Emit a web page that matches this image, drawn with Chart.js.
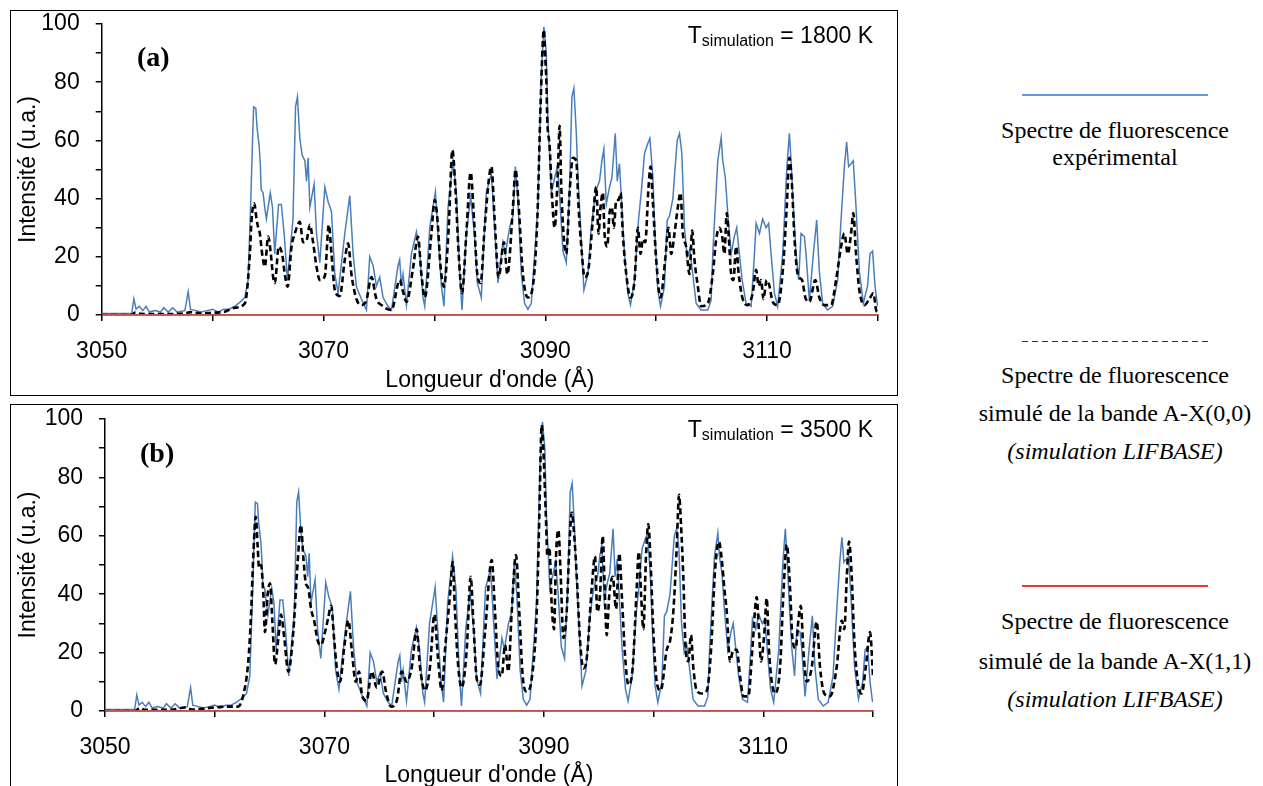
<!DOCTYPE html>
<html><head><meta charset="utf-8">
<script src="https://cdn.jsdelivr.net/npm/chart.js@4.4.1/dist/chart.umd.min.js"></script>
<style>
html,body{margin:0;padding:0;background:#fff}
body{position:relative;width:1263px;height:786px;overflow:hidden}
.box{position:absolute;border:1.5px solid #000;box-sizing:border-box;pointer-events:none}
.cv{position:absolute}
.tag{position:absolute;font:bold 28px "Liberation Serif","Times New Roman",serif;line-height:1}
.tsim{position:absolute;font:23px "Liberation Sans",Arial,sans-serif;line-height:1;white-space:nowrap;right:390px}
.tsim span{font-size:16px;position:relative;top:3px}
.leg{position:absolute;left:965px;width:300px;text-align:center;font:24px "Liberation Serif","Times New Roman",serif;line-height:1;white-space:nowrap}
.ln{position:absolute;left:1022px;width:186px;height:1.5px}
</style></head>
<body>
<canvas id="chartA" class="cv" width="887" height="385" style="left:10px;top:10px"></canvas>
<canvas id="chartB" class="cv" width="887" height="385" style="left:10px;top:405px"></canvas>
<div class="box" style="left:10px;top:10px;width:888px;height:386px"></div>
<div class="box" style="left:10px;top:404px;width:888px;height:400px"></div>

<div class="tag" style="left:137px;top:43px">(a)</div>
<div class="tag" style="left:140px;top:439px">(b)</div>
<div class="tsim" style="top:24px">T<span>simulation</span> = 1800 K</div>
<div class="tsim" style="top:418px">T<span>simulation</span> = 3500 K</div>

<div class="ln" style="top:94px;background:#5e9ee0"></div>
<div class="leg" style="top:118px">Spectre de fluorescence</div>
<div class="leg" style="top:145px">expérimental</div>

<div class="ln" style="top:341px;height:1px;background:repeating-linear-gradient(90deg,#333 0 6px,transparent 6px 10px)"></div>
<div class="leg" style="top:363px">Spectre de fluorescence</div>
<div class="leg" style="top:401px">simulé de la bande A-X(0,0)</div>
<div class="leg" style="top:439px"><i>(simulation LIFBASE)</i></div>

<div class="ln" style="top:585px;background:#e8383a"></div>
<div class="leg" style="top:609px">Spectre de fluorescence</div>
<div class="leg" style="top:649px">simulé de la bande A-X(1,1)</div>
<div class="leg" style="top:687px"><i>(simulation LIFBASE)</i></div>

<script>
/* axis ranges and labelled ticks */
const X_MIN=3050, X_MAX=3120;
const xLabels=[3050,3070,3090,3110];
const yLabels=[0,20,40,60,80,100];

/* experimental spectrum (same in both panels) */
const expX=[3050,3052.7,3052.9,3053.1,3053.4,3053.7,3054.0,3054.3,3054.8,3055.3,3055.6,3056.0,3056.4,3056.8,3057.5,3057.8,3058.0,3058.5,3059.0,3059.5,3060.0,3060.5,3061.0,3061.5,3062.0,3062.5,3062.9,3063.2,3063.45,3063.6,3063.7,3063.9,3064.0,3064.2,3064.3,3064.38,3064.55,3064.7,3064.85,3065.2,3065.4,3065.6,3065.95,3066.2,3066.45,3066.75,3067.25,3067.48,3067.65,3067.86,3068.07,3068.32,3068.47,3068.61,3068.77,3069.15,3069.37,3069.67,3070.12,3070.41,3070.72,3071.02,3071.32,3071.92,3072.37,3072.67,3072.97,3073.42,3073.87,3074.17,3074.47,3074.77,3075.07,3075.37,3075.82,3076.13,3076.72,3076.87,3077.03,3077.17,3077.48,3077.93,3078.38,3078.68,3078.97,3079.13,3079.58,3080.09,3080.32,3080.63,3080.86,3081.23,3081.68,3081.98,3082.28,3082.49,3082.88,3083.27,3083.63,3083.87,3084.23,3084.68,3085.14,3085.43,3085.73,3086.18,3086.4,3086.78,3087.08,3087.3,3087.53,3087.84,3088.13,3088.43,3088.74,3089.33,3089.64,3089.87,3090.09,3090.23,3090.39,3090.54,3090.84,3091.08,3091.29,3091.59,3091.89,3092.19,3092.4,3092.58,3092.79,3092.94,3093.24,3093.48,3093.84,3094.14,3094.44,3094.68,3094.89,3095.1,3095.28,3095.5,3095.79,3096.0,3096.31,3096.49,3096.69,3096.9,3097.14,3097.44,3097.68,3098.05,3098.41,3098.65,3098.95,3099.25,3099.43,3099.69,3099.91,3100.14,3100.39,3100.75,3100.99,3101.2,3101.5,3101.89,3102.1,3102.31,3102.55,3102.79,3103.03,3103.3,3103.6,3104.05,3104.65,3104.95,3105.1,3105.55,3105.86,3106.0,3106.24,3106.45,3106.76,3107.05,3107.26,3107.5,3107.75,3108.11,3108.56,3108.86,3109.01,3109.31,3109.6,3109.91,3110.14,3110.36,3110.66,3110.95,3111.41,3111.77,3112.01,3112.16,3112.37,3112.61,3112.85,3113.06,3113.36,3113.51,3113.81,3114.17,3114.47,3114.71,3115.01,3115.46,3115.91,3116.36,3116.67,3116.97,3117.17,3117.35,3117.57,3117.77,3118.02,3118.32,3118.68,3119.06,3119.28,3119.51,3119.73,3119.96];
const expY=[0.5,0.5,5.5,2,3,1.5,3,1,1.5,1,2.5,1,2.5,1,1.5,8,2,1.5,1,1.5,2,1,2,2,3,4.5,6,12,40,60,71.5,71,64.7,58,52,43,42,37,33,42,37,21,38,38,28,12,33,71.6,75,61,55,53,46,54,37,45,28,18,44,39,35.5,14,7.5,28,41,21,9.7,5.5,1.7,20,17,10,13,6,3,1.7,17,19,10,14,3.4,21,28.6,21,6,3,30,42.4,28,10,3,37,53,42,14,1.7,28,40.6,27,11,6,42,48.7,30,11,25,21,30,34,51,40,14,4,2,4,37,83,99,90,67,55,42,47,51,41,22,18,44,75,78,63,48,26,8.6,14,30,39.5,44,46,53,57,38,44,47,62.4,46,52,37,21,7.5,3.4,12,33,42,55.6,59,60.7,48,26,8.6,3,10,32.6,34,40,60,62.4,55.6,30,20,22.5,14,4,1.7,1.7,5,21,53,61,53,47,35,21,27,30,21,12,4,3,21,31.5,28,33,30,31.5,21,7.5,3,21,50,62.4,53,37,21,12,28,27,21,5,21,32.6,15,4,1.7,3,12,33,51,59.5,51,52,53,37,15,4,10,21,22,10,3];

/* simulated A-X(0,0), T = 1800 K */
const simAX=[3050,3052.7,3053,3053.5,3055,3057.5,3058,3059,3060,3061,3062,3062.91,3063.36,3063.51,3063.75,3063.96,3064.11,3064.26,3064.47,3064.71,3065.01,3065.25,3065.46,3065.61,3065.97,3066.27,3066.51,3066.76,3067.12,3067.41,3067.86,3068.16,3068.47,3068.77,3069.06,3069.37,3069.67,3070.12,3070.48,3070.72,3071.02,3071.47,3071.92,3072.22,3072.52,3072.97,3073.42,3073.87,3074.32,3074.77,3075.23,3076.13,3076.87,3077.17,3077.48,3078.07,3078.52,3078.83,3079.13,3079.73,3080.03,3080.27,3080.57,3080.86,3081.29,3081.62,3081.89,3082.19,3082.49,3082.88,3083.27,3083.57,3083.87,3084.17,3084.53,3085.14,3085.43,3085.79,3086.27,3086.58,3087.08,3087.32,3087.59,3087.98,3088.43,3088.88,3089.28,3089.58,3089.87,3090.0,3090.1,3090.18,3090.39,3090.59,3090.84,3091.14,3091.29,3091.44,3091.68,3091.89,3092.19,3092.49,3092.79,3093.0,3093.3,3093.54,3093.9,3094.29,3094.59,3094.8,3094.98,3095.19,3095.34,3095.59,3095.79,3096.0,3096.18,3096.4,3096.61,3096.79,3096.99,3097.3,3097.68,3098.05,3098.35,3098.59,3098.8,3099.01,3099.31,3099.49,3099.69,3100.0,3100.39,3100.81,3101.11,3101.35,3101.65,3101.95,3102.19,3102.4,3102.7,3103.0,3103.24,3103.45,3103.75,3104.05,3104.65,3105.1,3105.41,3105.7,3105.95,3106.15,3106.36,3106.54,3106.76,3106.96,3107.21,3107.44,3107.8,3108.25,3108.7,3109.01,3109.24,3109.46,3109.67,3109.96,3110.21,3110.5,3110.95,3111.41,3111.77,3112.01,3112.25,3112.46,3112.76,3113.15,3113.45,3113.81,3114.35,3114.71,3115.16,3115.77,3116.22,3116.67,3116.97,3117.27,3117.57,3117.77,3118.02,3118.32,3118.77,3119.22,3119.59,3119.83,3120];
const simAY=[0,0,0.8,0.4,0.3,0.5,1,0.5,0.8,1,2.5,4,21,32.6,38.4,33,30,28,21,16.6,27,21,13,11,23.5,21,14,9.7,23.5,28,32,25,25.6,31,25,16.6,12,13.4,31,21,8.6,6.5,19,24.6,14,5.5,3.4,5,13,5.5,3.4,1.7,12,8,4.5,16,27,14,6,28,39.5,33,16,9.7,30,56.7,44,21,7.5,28,49,33,14,11,30,51,33,13,25,14,37,50,38,14,6,10,33,73,98,88,80,67,58,42,30,50,65,44,26,21,42,54,53,37,21,13,16,33,44,28,37,42,28,23.5,35,37,30,39.5,39.5,42,28,14,6,12,30,21,26,25,44,51,39.5,19,6,19,30,21,28,37,42,28,23.5,14,29,19,10,3,4,14,26,30,27,21,35,27,14,12,23.5,14,5.5,3.4,7.5,15.5,10,12,5.5,12,10,4.5,3.4,15,37,54,44,27,14,12,6,4.5,12,6,3.4,3.4,12,23.5,28,21,28,35,21,8.6,3.4,5.5,7.5,1.7,1];

/* simulated A-X(0,0), T = 3500 K */
const simBX=[3050,3052.7,3053.2,3053.6,3056,3057.3,3058,3059.5,3060.94,3062.12,3062.61,3063.06,3063.31,3063.52,3063.74,3063.92,3064.04,3064.22,3064.43,3064.58,3064.83,3065.04,3065.25,3065.5,3065.8,3066.04,3066.34,3066.71,3067.16,3067.56,3067.86,3068.07,3068.29,3068.53,3068.78,3069.08,3069.39,3069.69,3070.05,3070.35,3070.6,3070.9,3071.12,3071.42,3071.81,3072.18,3072.49,3072.85,3073.15,3073.45,3073.85,3074.31,3074.77,3075.28,3075.59,3076.07,3076.59,3077.04,3077.5,3077.96,3078.41,3078.71,3079.17,3079.62,3080.02,3080.33,3080.69,3080.99,3081.45,3081.69,3081.9,3082.2,3082.51,3082.97,3083.33,3083.57,3083.88,3084.18,3084.64,3085.25,3085.55,3085.85,3086.16,3086.46,3086.76,3087.07,3087.46,3087.76,3088.07,3088.44,3088.89,3089.35,3089.59,3089.8,3089.95,3090.2,3090.32,3090.5,3090.72,3090.93,3091.11,3091.32,3091.54,3091.78,3092.08,3092.32,3092.54,3092.75,3093.0,3093.3,3093.6,3093.91,3094.36,3094.66,3094.87,3095.12,3095.37,3095.51,3095.73,3095.97,3096.28,3096.58,3096.88,3097.1,3097.4,3097.7,3098.1,3098.46,3098.65,3098.86,3099.07,3099.31,3099.52,3099.74,3099.98,3100.29,3100.65,3101.2,3101.5,3101.8,3102.11,3102.32,3102.5,3102.71,3102.93,3103.17,3103.41,3103.62,3103.93,3104.39,3104.85,3105.24,3105.6,3105.96,3106.21,3106.45,3106.67,3106.97,3107.27,3107.58,3107.88,3108.18,3108.64,3109.0,3109.4,3109.61,3109.79,3110.1,3110.31,3110.52,3110.77,3111.07,3111.53,3111.83,3112.14,3112.44,3112.65,3112.96,3113.2,3113.42,3113.65,3113.96,3114.42,3114.87,3115.17,3115.56,3116.08,3116.69,3117.15,3117.39,3117.61,3117.82,3118.06,3118.3,3118.61,3118.97,3119.34,3119.73,3120];
const simBY=[0,0,1,0.4,0.4,1.2,0.5,1,1.5,1.5,5.5,17,33,53.4,66.5,56,49,50,40,27,40,43.7,31,16,25,33,25,13.5,27,51,63.7,53,44,42,35,30.6,24,22.6,27,32,36,24,15,10,22,31,21,10,13.5,5,3.5,13.5,8,13.5,7,1.5,3.5,13.5,10,15,28,15,7,15,33,19,7,21,40,51,34,15,8,21,46,31,11,9,27,51.7,34,15,12,22.6,13.5,34,53.4,34,12,6.6,11,34,67,98,90,65,53,56,36,28,53,62,46,25,34,56,68,61,46,24,14.6,18,42,53,34,40,60,46,26,40,46,35,54,40,19,9,15,42,54.5,40,28,53,64,50,27,10,7,21,24,34,56,74,64,46,21,17,26,15,7,6,7,21,48,58,52,42,34,17,21,21,12,5,5,21,39,27,17,27,38.6,21,10,6,15,40,57,42,25,21.5,31,36,21,10,15,30.6,15,6,5,15,31,28,46,58,46,24,10,6,15,27,12];

/* simulated A-X(1,1): flat at zero */
const redX=[3050,3120];
const redY=[0,0];

const FONT='"Liberation Sans", Arial, sans-serif';
const pts=(xs,ys)=>xs.map((x,i)=>({x,y:ys[i]}));

function panel(id, simX, simY, pad, yWidth, xHeight){
  return new Chart(document.getElementById(id),{
    type:"line",
    data:{datasets:[
      {label:"A-X(1,1)",data:pts(redX,redY),borderColor:"#c0504d",borderWidth:2,order:0},
      {label:"A-X(0,0)",data:pts(simX,simY),borderColor:"#000",borderWidth:2.6,borderDash:[6,3.5],
        cubicInterpolationMode:"monotone",order:1},
      {label:"Expérimental",data:pts(expX,expY),borderColor:"#4a7ebb",borderWidth:1.5,order:2}
    ]},
    options:{
      responsive:false,animation:false,
      elements:{point:{radius:0},line:{tension:0,fill:false}},
      layout:{padding:pad},
      plugins:{legend:{display:false},tooltip:{enabled:false}},
      scales:{
        x:{
          type:"linear",min:X_MIN,max:X_MAX,
          border:{color:"#000",width:1.5},
          grid:{drawOnChartArea:false,drawTicks:true,tickLength:6,color:"#000",lineWidth:1.5},
          ticks:{stepSize:10,autoSkip:false,maxRotation:0,padding:17,color:"#000",font:{family:FONT,size:23},
            callback:(v)=>xLabels.includes(v)?String(v):""},
          title:{display:true,text:"Longueur d'onde (Å)",color:"#000",font:{family:FONT,size:23},padding:{top:0,bottom:1}},
          afterFit(s){ s.height=xHeight; }
        },
        y:{
          min:0,max:100,
          border:{color:"#000",width:1.5},
          grid:{drawOnChartArea:false,drawTicks:true,tickLength:6,color:"#000",lineWidth:1.5},
          ticks:{stepSize:10,autoSkip:false,padding:16,color:"#000",font:{family:FONT,size:23},
            callback:(v)=>yLabels.includes(v)?String(v):""},
          title:{display:true,text:"Intensité (u.a.)",color:"#000",font:{family:FONT,size:23},padding:{top:5,bottom:0}},
          afterFit(s){ s.width=yWidth; s.paddingTop=0; s.paddingBottom=0; }
        }
      }
    }
  });
}

panel("chartA", simAX, simAY, {top:14,right:19,left:0,bottom:0}, 91.7, 80);
panel("chartB", simBX, simBY, {top:14,right:24,left:0,bottom:0}, 95, 79);
</script>
</body></html>
